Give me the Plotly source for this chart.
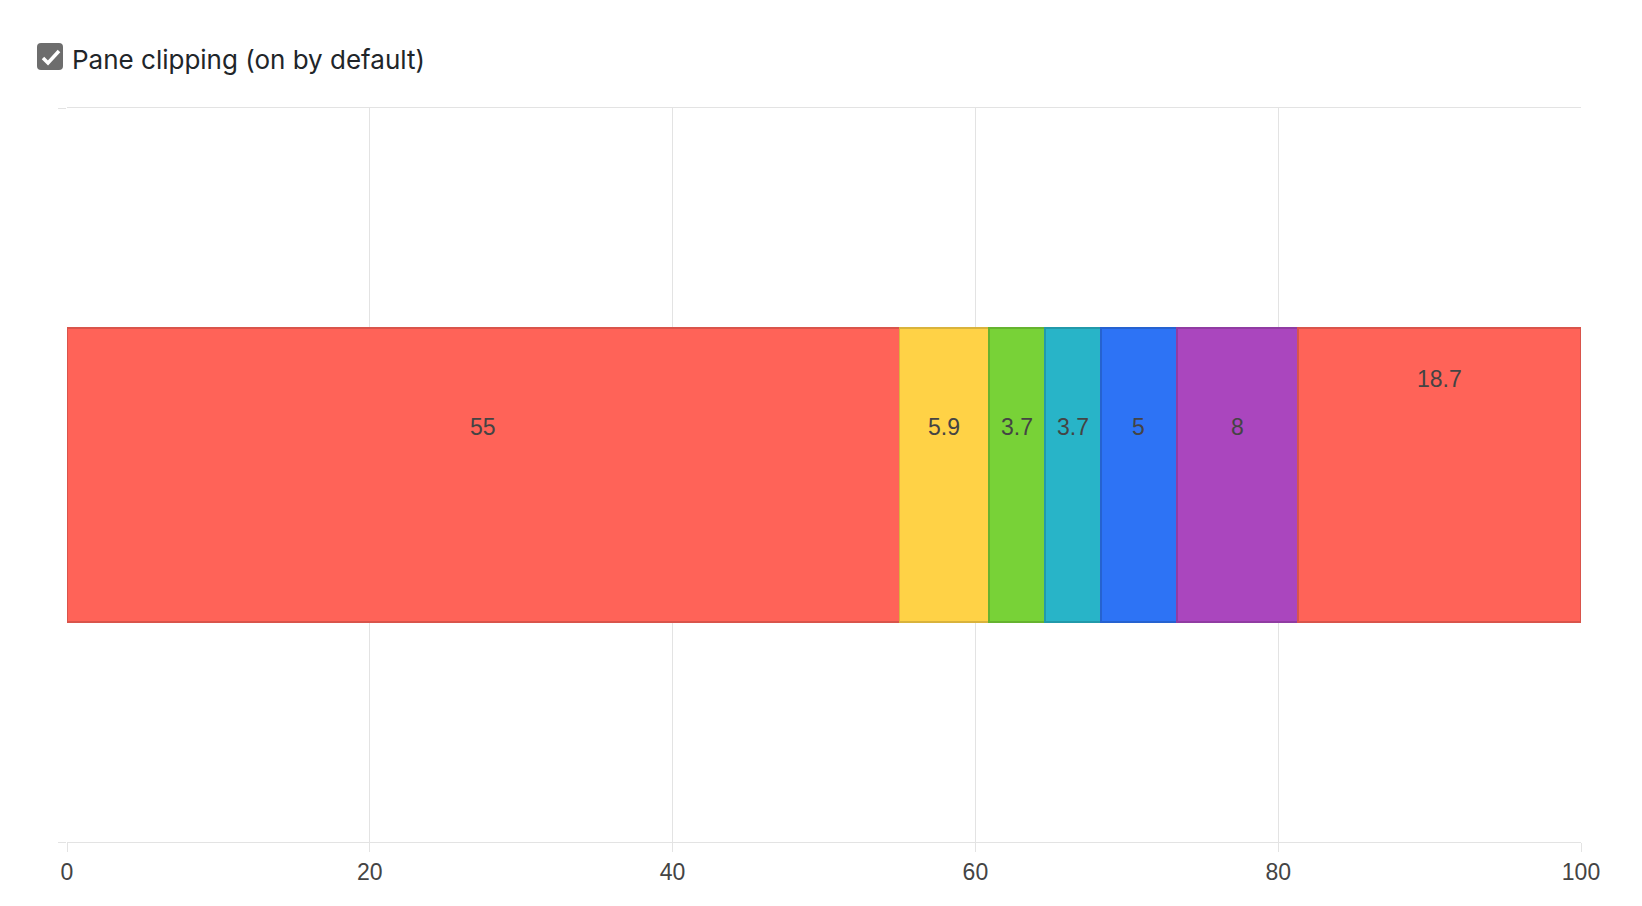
import plotly.graph_objects as go

# stacked segments of the single bar
values = [55, 5.9, 3.7, 3.7, 5, 8, 18.7]
colors = ['#ff6358', '#ffd246', '#78d237', '#28b4c8', '#2d73f5', '#aa46be', '#ff6358']
borders = ['#d9544b', '#d9b33c', '#66b32f', '#2299aa', '#2662d0', '#903ca2', '#d9544b']
x_ticks = [0, 20, 40, 60, 80, 100]

grid = '#e3e3e3'
label_font = dict(family='Liberation Sans, Arial, sans-serif', size=23, color='#444444')

fig = go.Figure()
for v, c, b in zip(values, colors, borders):
    fig.add_trace(go.Bar(
        x=[v], y=[0], orientation='h', width=0.4,
        marker=dict(color=c, line=dict(color=b, width=1.5)),
        hoverinfo='x', showlegend=False,
    ))

# value labels, placed in data coords over each segment
start = 0
for i, v in enumerate(values):
    fig.add_annotation(
        x=start + v / 2, y=0, xref='x', yref='y',
        text=f'{v:g}', showarrow=False, font=label_font,
        yshift=96 if i == len(values) - 1 else 48,
    )
    start += v

# checkbox + label above the chart
fig.add_shape(
    type='path', xref='paper', yref='paper', xsizemode='pixel', ysizemode='pixel',
    xanchor=0, yanchor=1,
    path='M -26,65 L -8,65 Q -4,65 -4,61 L -4,42 Q -4,38 -8,38 L -26,38 '
         'Q -30,38 -30,42 L -30,61 Q -30,65 -26,65 Z',
    fillcolor='#6d6d6d', line=dict(width=0),
)
fig.add_shape(
    type='path', xref='paper', yref='paper', xsizemode='pixel', ysizemode='pixel',
    xanchor=0, yanchor=1,
    path='M -24,50 L -19,45 L -8,57',
    line=dict(color='white', width=3.5),
)
fig.add_annotation(
    x=0, y=1, xref='paper', yref='paper', xanchor='left', yanchor='middle',
    xshift=3, yshift=49, showarrow=False,
    text='Pane clipping (on by default)',
    font=dict(family='Inter, Liberation Sans, sans-serif', size=26, color='#212529'),
)

fig.update_layout(
    barmode='stack',
    width=1626, height=890,
    margin=dict(l=59, r=53, t=100, b=56),
    plot_bgcolor='white', paper_bgcolor='white',
    xaxis=dict(
        range=[0, 100], tickvals=x_ticks, showgrid=True, gridcolor=grid, gridwidth=1,
        zeroline=False, showline=True, mirror=True, linecolor=grid, linewidth=1,
        ticks='outside', ticklen=9, tickcolor=grid, tickfont=label_font,
        fixedrange=True,
    ),
    yaxis=dict(
        range=[-0.5, 0.5], tickvals=[-0.5, 0.5], showticklabels=False,
        showgrid=False, zeroline=False, showline=False,
        ticks='outside', ticklen=8, tickcolor=grid, fixedrange=True,
    ),
)

fig.write_html("out.html")
